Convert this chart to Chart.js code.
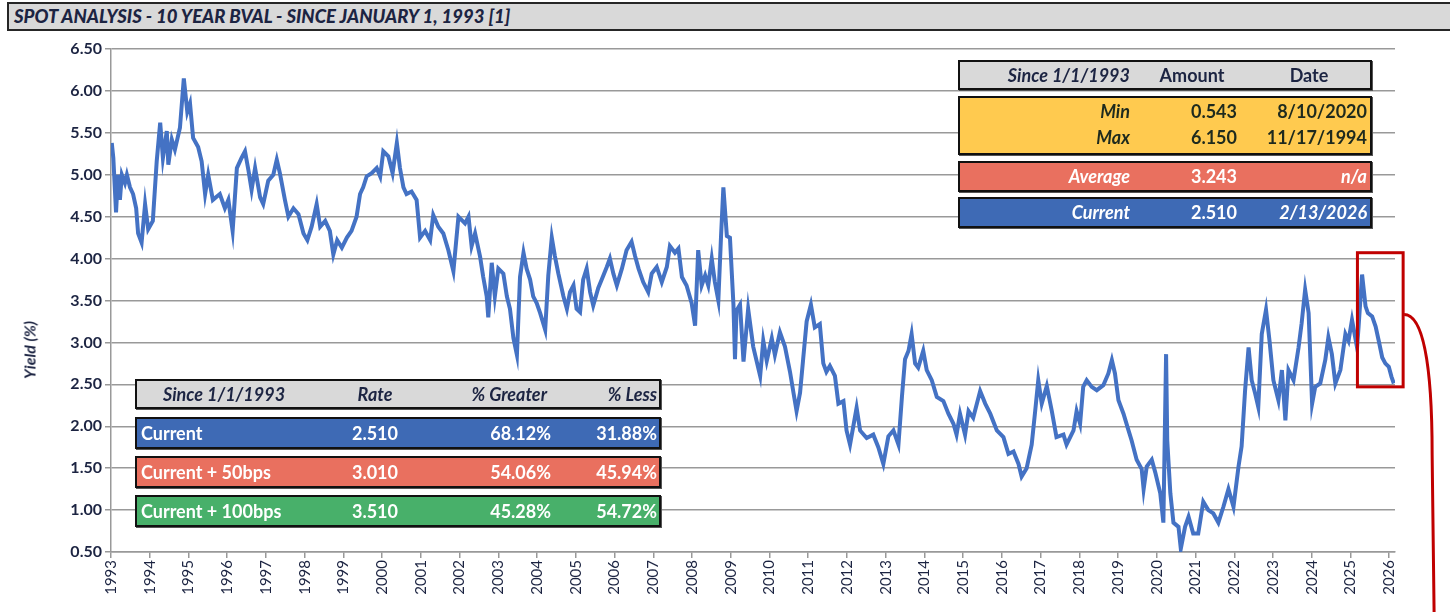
<!DOCTYPE html>
<html lang="en">
<head>
<meta charset="UTF-8">
<title>Spot Analysis - 10 Year BVAL</title>
<script src="https://cdn.jsdelivr.net/npm/chart.js"></script>
<style>
    body { margin: 0; background: #fff; font-family: Lato, "Open Sans", sans-serif; overflow: hidden; }
    .wrap { position: relative; width: 1450px; height: 612px; }
    #chartBox { position: absolute; left: 0; top: 0; width: 1450px; height: 612px; }
    .title-bar {
        position: absolute; left: 7px; top: 2px; width: 1460px; height: 29px;
        background: #d9d9d9; border: 2px solid #262626; box-sizing: border-box;
        font-weight: 900; font-style: italic; font-size: 18.5px; color: #1c2442;
        line-height: 25px; padding-left: 5px;
    }
    .ylab {
        position: absolute; left: 29px; top: 350px; transform: translate(-50%, -50%) rotate(-90deg);
        font-weight: bold; font-style: italic; font-size: 16px; color: #1c2442; white-space: nowrap;
    }
    .box { position: absolute; border: 2px solid #111; box-sizing: border-box; box-shadow: 1px 1px 0 #555; }
    .cell { position: absolute; font-weight: bold; font-size: 18px; white-space: nowrap; }
    .it { font-style: italic; }
    .hdr { background: #d9d9d9; color: #1c2442; }
    .gold { background: #ffca4f; color: #1e2a1e; }
    .red { background: #e9705f; color: #fff; }
    .blue { background: #3e6ab5; color: #fff; }
    .green { background: #48b06a; color: #fff; }
    .r { text-align: right; }
    .c { text-align: center; }
</style>
</head>
<body>
<div class="wrap">
    <div id="chartBox"><canvas id="yieldChart"></canvas></div>
    <div class="title-bar">SPOT ANALYSIS - 10 YEAR BVAL - SINCE JANUARY 1, 1993 [1]</div>
    <div class="ylab">Yield (%)</div>

    <!-- top right summary -->
    <div class="box hdr" style="left:958px; top:60px; width:414px; height:30px;">
        <div class="cell it r" style="right:240px; top:0; line-height:26px;">Since 1/1/1993</div>
        <div class="cell c" style="left:180px; width:104px; top:0; line-height:26px;">Amount</div>
        <div class="cell c" style="left:300px; width:98px; top:0; line-height:26px;">Date</div>
    </div>
    <div class="box gold" style="left:958px; top:96px; width:414px; height:59px;">
        <div class="cell it r" style="right:240px; top:0; line-height:26px;">Min</div>
        <div class="cell r" style="right:133px; top:0; line-height:26px;">0.543</div>
        <div class="cell r" style="right:3px; top:0; line-height:26px;">8/10/2020</div>
        <div class="cell it r" style="right:240px; top:26px; line-height:26px;">Max</div>
        <div class="cell r" style="right:133px; top:26px; line-height:26px;">6.150</div>
        <div class="cell r" style="right:3px; top:26px; line-height:26px;">11/17/1994</div>
    </div>
    <div class="box red" style="left:958px; top:161px; width:414px; height:31px;">
        <div class="cell it r" style="right:240px; top:0; line-height:27px;">Average</div>
        <div class="cell r" style="right:133px; top:0; line-height:27px;">3.243</div>
        <div class="cell it r" style="right:3px; top:0; line-height:27px;">n/a</div>
    </div>
    <div class="box blue" style="left:958px; top:197px; width:414px; height:31px;">
        <div class="cell it r" style="right:240px; top:0; line-height:27px;">Current</div>
        <div class="cell r" style="right:133px; top:0; line-height:27px;">2.510</div>
        <div class="cell it r" style="right:3px; top:0; line-height:27px;">2/13/2026</div>
    </div>

    <!-- bottom left rate table -->
    <div class="box hdr" style="left:135px; top:379px; width:526px; height:30px;">
        <div class="cell it c" style="left:0; width:174px; top:0; line-height:26px;">Since 1/1/1993</div>
        <div class="cell it c" style="left:188px; width:100px; top:0; line-height:26px;">Rate</div>
        <div class="cell it r" style="right:112px; top:0; line-height:26px;">% Greater</div>
        <div class="cell it r" style="right:2px; top:0; line-height:26px;">% Less</div>
    </div>
    <div class="box blue" style="left:135px; top:417px; width:526px; height:32px;">
        <div class="cell" style="left:4px; top:0; line-height:28px;">Current</div>
        <div class="cell c" style="left:188px; width:100px; top:0; line-height:28px;">2.510</div>
        <div class="cell r" style="right:108px; top:0; line-height:28px;">68.12%</div>
        <div class="cell r" style="right:2px; top:0; line-height:28px;">31.88%</div>
    </div>
    <div class="box red" style="left:135px; top:456px; width:526px; height:32px;">
        <div class="cell" style="left:4px; top:0; line-height:28px;">Current + 50bps</div>
        <div class="cell c" style="left:188px; width:100px; top:0; line-height:28px;">3.010</div>
        <div class="cell r" style="right:108px; top:0; line-height:28px;">54.06%</div>
        <div class="cell r" style="right:2px; top:0; line-height:28px;">45.94%</div>
    </div>
    <div class="box green" style="left:135px; top:495px; width:526px; height:32px;">
        <div class="cell" style="left:4px; top:0; line-height:28px;">Current + 100bps</div>
        <div class="cell c" style="left:188px; width:100px; top:0; line-height:28px;">3.510</div>
        <div class="cell r" style="right:108px; top:0; line-height:28px;">45.28%</div>
        <div class="cell r" style="right:2px; top:0; line-height:28px;">54.72%</div>
    </div>
</div>

<script>
    // readings: decimal year and 10y BVAL yield (%)
    const years = [
        1993.02, 1993.06, 1993.13, 1993.18, 1993.23, 1993.28, 1993.36, 1993.41, 1993.49, 1993.57,
        1993.65, 1993.70, 1993.79, 1993.88, 1993.96, 1994.08, 1994.18, 1994.27, 1994.34, 1994.44,
        1994.48, 1994.57, 1994.65, 1994.78, 1994.88, 1994.97, 1995.04, 1995.12, 1995.25, 1995.34,
        1995.43, 1995.51, 1995.63, 1995.81, 1995.94, 1996.03, 1996.14, 1996.25, 1996.37, 1996.46,
        1996.55, 1996.63, 1996.72, 1996.85, 1996.93, 1997.06, 1997.19, 1997.28, 1997.36, 1997.49,
        1997.58, 1997.71, 1997.84, 1997.97, 1998.07, 1998.18, 1998.31, 1998.40, 1998.53, 1998.65,
        1998.74, 1998.84, 1998.96, 1999.09, 1999.21, 1999.34, 1999.43, 1999.51, 1999.60, 1999.73,
        1999.86, 1999.95, 2000.03, 2000.16, 2000.27, 2000.38, 2000.46, 2000.55, 2000.63, 2000.76,
        2000.89, 2000.98, 2001.11, 2001.24, 2001.32, 2001.45, 2001.58, 2001.71, 2001.84, 2001.97,
        2002.14, 2002.23, 2002.31, 2002.40, 2002.53, 2002.61, 2002.70, 2002.74, 2002.83, 2002.91,
        2003.00, 2003.13, 2003.22, 2003.30, 2003.39, 2003.48, 2003.56, 2003.65, 2003.73, 2003.82,
        2003.90, 2003.99, 2004.08, 2004.21, 2004.29, 2004.38, 2004.46, 2004.55, 2004.68, 2004.77,
        2004.85, 2004.94, 2005.02, 2005.11, 2005.19, 2005.28, 2005.37, 2005.45, 2005.58, 2005.67,
        2005.80, 2005.88, 2005.97, 2006.06, 2006.19, 2006.31, 2006.44, 2006.53, 2006.62, 2006.74,
        2006.87, 2006.96, 2007.09, 2007.22, 2007.35, 2007.43, 2007.56, 2007.65, 2007.74, 2007.86,
        2007.99, 2008.08, 2008.16, 2008.25, 2008.34, 2008.42, 2008.51, 2008.59, 2008.68, 2008.75,
        2008.81, 2008.90, 2008.98, 2009.07, 2009.11, 2009.15, 2009.24, 2009.33, 2009.45, 2009.58,
        2009.76, 2009.84, 2009.93, 2010.06, 2010.14, 2010.27, 2010.40, 2010.53, 2010.62, 2010.70,
        2010.79, 2010.87, 2010.96, 2011.07, 2011.17, 2011.30, 2011.39, 2011.47, 2011.56, 2011.69,
        2011.78, 2011.91, 2011.99, 2012.08, 2012.25, 2012.34, 2012.51, 2012.68, 2012.81, 2012.94,
        2013.07, 2013.20, 2013.33, 2013.42, 2013.50, 2013.59, 2013.67, 2013.76, 2013.84, 2013.97,
        2014.06, 2014.19, 2014.32, 2014.49, 2014.62, 2014.75, 2014.83, 2014.92, 2015.05, 2015.14,
        2015.26, 2015.44, 2015.57, 2015.70, 2015.87, 2016.04, 2016.17, 2016.30, 2016.43, 2016.51,
        2016.64, 2016.77, 2016.86, 2016.94, 2017.03, 2017.16, 2017.29, 2017.41, 2017.59, 2017.67,
        2017.85, 2017.93, 2018.02, 2018.10, 2018.19, 2018.32, 2018.45, 2018.62, 2018.75, 2018.84,
        2018.92, 2019.01, 2019.14, 2019.27, 2019.35, 2019.48, 2019.61, 2019.66, 2019.74, 2019.87,
        2019.96, 2020.09, 2020.17, 2020.24, 2020.27, 2020.35, 2020.43, 2020.56, 2020.62, 2020.73,
        2020.82, 2020.94, 2021.07, 2021.20, 2021.33, 2021.46, 2021.59, 2021.72, 2021.85, 2021.98,
        2022.11, 2022.19, 2022.28, 2022.37, 2022.45, 2022.54, 2022.62, 2022.71, 2022.82, 2022.91,
        2023.01, 2023.14, 2023.23, 2023.32, 2023.40, 2023.53, 2023.66, 2023.74, 2023.83, 2023.92,
        2024.01, 2024.09, 2024.22, 2024.35, 2024.43, 2024.52, 2024.61, 2024.74, 2024.87, 2024.95,
        2025.04, 2025.17, 2025.21, 2025.30, 2025.39, 2025.45, 2025.56, 2025.65, 2025.73, 2025.82,
        2025.90, 2025.99, 2026.06, 2026.12
    ];
    const yields = [
        5.38, 5.20, 4.55, 5.00, 4.70, 5.00, 4.90, 5.00, 4.85, 4.77,
        4.60, 4.30, 4.19, 4.65, 4.35, 4.45, 5.16, 5.62, 5.20, 5.52,
        5.12, 5.42, 5.30, 5.56, 6.15, 5.75, 5.85, 5.44, 5.33, 5.16,
        4.77, 5.00, 4.70, 4.77, 4.60, 4.70, 4.33, 5.08, 5.20, 5.28,
        5.05, 4.82, 5.08, 4.73, 4.65, 4.93, 5.00, 5.18, 5.02, 4.70,
        4.50, 4.60, 4.53, 4.30, 4.22, 4.38, 4.65, 4.38, 4.45, 4.33,
        4.05, 4.22, 4.13, 4.25, 4.33, 4.50, 4.77, 4.85, 4.98, 5.02,
        5.08, 4.98, 5.28, 5.22, 5.02, 5.38, 5.08, 4.85, 4.77, 4.80,
        4.70, 4.25, 4.33, 4.22, 4.52, 4.38, 4.30, 4.10, 3.85, 4.50,
        4.42, 4.50, 4.15, 4.30, 4.02, 3.78, 3.55, 3.30, 3.95, 3.55,
        3.88, 3.82, 3.55, 3.40, 3.05, 2.85, 3.78, 4.07, 3.88, 3.75,
        3.55, 3.47, 3.35, 3.15, 3.80, 4.25, 4.03, 3.82, 3.55, 3.40,
        3.60, 3.68, 3.40, 3.36, 3.75, 3.88, 3.60, 3.44, 3.65, 3.75,
        3.90, 4.00, 3.82, 3.68, 3.88, 4.10, 4.20, 4.03, 3.88, 3.72,
        3.60, 3.82, 3.90, 3.72, 3.90, 4.15, 4.07, 4.12, 3.78, 3.68,
        3.47, 3.20, 4.10, 3.68, 3.80, 3.68, 4.00, 3.72, 3.50, 4.27,
        4.85, 4.27, 4.25, 3.45, 2.80, 3.38, 3.45, 2.77, 3.40, 2.95,
        2.60, 3.02, 2.78, 3.05, 2.85, 3.12, 2.95, 2.65, 2.40, 2.18,
        2.40, 2.80, 3.25, 3.45, 3.18, 3.22, 2.75, 2.65, 2.72, 2.60,
        2.27, 2.30, 1.95, 1.78, 2.22, 1.95, 1.86, 1.90, 1.75, 1.55,
        1.88, 1.95, 1.78, 2.35, 2.80, 2.90, 3.10, 2.75, 2.70, 2.90,
        2.67, 2.55, 2.35, 2.30, 2.15, 2.03, 1.90, 2.15, 1.90, 2.18,
        2.10, 2.42, 2.27, 2.15, 1.95, 1.87, 1.67, 1.70, 1.55, 1.40,
        1.50, 1.78, 2.18, 2.55, 2.27, 2.48, 2.18, 1.87, 1.90, 1.78,
        1.95, 2.18, 2.03, 2.47, 2.55, 2.47, 2.43, 2.49, 2.63, 2.79,
        2.63, 2.31, 2.15, 1.95, 1.83, 1.60, 1.49, 1.25, 1.52, 1.60,
        1.45, 1.20, 0.85, 2.86, 1.83, 1.20, 0.85, 0.80, 0.54, 0.80,
        0.92, 0.72, 0.72, 1.10, 1.00, 0.96, 0.85, 1.04, 1.25, 1.04,
        1.52, 1.76, 2.43, 2.94, 2.55, 2.39, 2.23, 3.10, 3.39, 3.02,
        2.55, 2.31, 2.67, 2.07, 2.67, 2.55, 2.94, 3.23, 3.63, 3.35,
        2.27, 2.47, 2.51, 2.79, 3.06, 2.86, 2.51, 2.67, 3.10, 3.02,
        3.27, 2.94, 3.19, 3.81, 3.43, 3.35, 3.31, 3.19, 3.02, 2.82,
        2.75, 2.71, 2.59, 2.51
    ];
    const xTickLabels = [
        '1993', '1994', '1995', '1996', '1997', '1998', '1999', '2000', '2001', '2002', '2003', '2004',
        '2005', '2006', '2007', '2008', '2009', '2010', '2011', '2012', '2013', '2014', '2015', '2016',
        '2017', '2018', '2019', '2020', '2021', '2022', '2023', '2024', '2025', '2026'
    ];
    const yTickLabels = ['0.50', '1.00', '1.50', '2.00', '2.50', '3.00', '3.50', '4.00', '4.50', '5.00', '5.50', '6.00', '6.50'];

    // recent window outlined in red
    const boxFrom = 2025.18, boxTo = 2026.36, boxTop = 4.07, boxBottom = 2.47;

    const highlight = {
        id: 'highlight',
        afterDraw(chart) {
            const { ctx, scales: { x, y } } = chart;
            const l = x.getPixelForValue(boxFrom), r = x.getPixelForValue(boxTo);
            const t = y.getPixelForValue(boxTop), b = y.getPixelForValue(boxBottom);
            ctx.save();
            ctx.strokeStyle = '#c00000';
            ctx.lineWidth = 3;
            ctx.strokeRect(l, t, r - l, b - t);
            // connector running off the bottom
            const sy = t + (b - t) * 0.46;
            ctx.beginPath();
            ctx.moveTo(r + 1, sy);
            ctx.bezierCurveTo(r + 20, sy, r + 29, sy + 50, r + 29, sy + 140);
            ctx.lineTo(r + 31, 615);
            ctx.stroke();
            ctx.restore();
        }
    };

    const tickFont = { family: 'Lato', size: 16, weight: 'bold' };

    new Chart(document.getElementById('yieldChart'), {
        type: 'line',
        data: {
            datasets: [{
                data: years.map((yr, i) => ({ x: yr, y: yields[i] })),
                borderColor: '#4472c4',
                borderWidth: 4,
                pointRadius: 0,
                tension: 0,
                fill: false
            }]
        },
        options: {
            responsive: true,
            maintainAspectRatio: false,
            animation: false,
            layout: { padding: { top: 49, right: 55, left: 0, bottom: 0 } },
            plugins: { legend: { display: false }, tooltip: { enabled: false } },
            scales: {
                x: {
                    type: 'linear',
                    min: 1993,
                    max: 2026.15,
                    afterBuildTicks: s => { s.ticks = xTickLabels.map(t => ({ value: Number(t) })); },
                    afterFit: s => { s.height = 60; },
                    ticks: {
                        autoSkip: false,
                        minRotation: 90,
                        maxRotation: 90,
                        padding: 2,
                        color: '#1c2442',
                        font: { family: 'Lato', size: 15 },
                        callback: v => String(v)
                    },
                    grid: { drawOnChartArea: false, drawTicks: true, tickLength: 6, color: '#999', lineWidth: 1.5 },
                    border: { color: '#999', width: 1.5 }
                },
                y: {
                    min: 0.5,
                    max: 6.5,
                    afterBuildTicks: s => { s.ticks = yTickLabels.map(t => ({ value: Number(t) })); },
                    afterFit: s => { s.width = 111; },
                    ticks: {
                        padding: 3,
                        color: '#1c2442',
                        font: tickFont,
                        callback: v => yTickLabels.find(t => Number(t) === v)
                    },
                    grid: { color: '#999', lineWidth: 1.5, tickLength: 6 },
                    border: { color: '#999', width: 1.5 }
                }
            }
        },
        plugins: [highlight]
    });
</script>
</body>
</html>
